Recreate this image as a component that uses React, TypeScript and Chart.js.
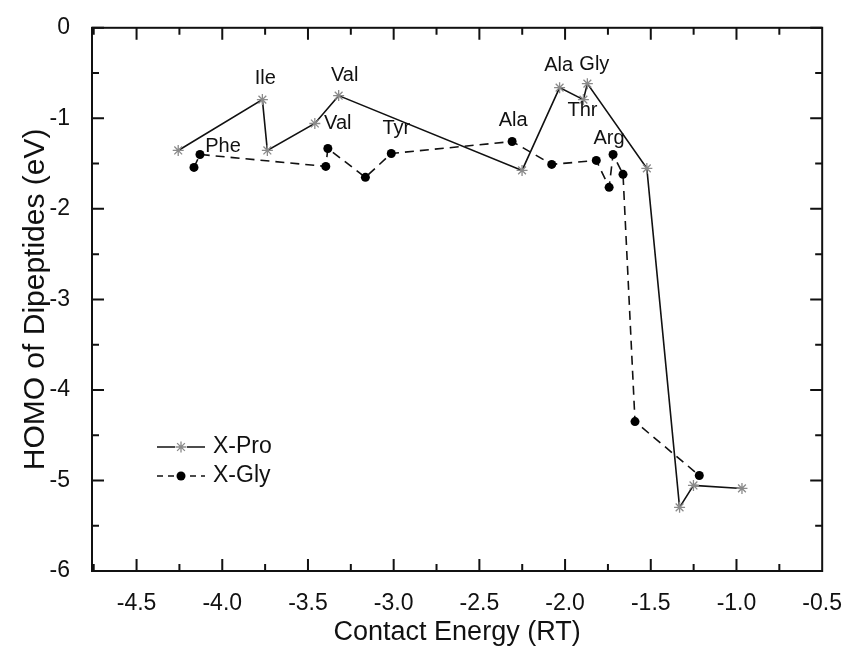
import React, { useEffect, useRef } from "react";
import { Chart, registerables } from "chart.js";

Chart.register(...registerables);

// ---- data ----
const PRO_X = [-4.257, -3.766, -3.737, -3.46, -3.321, -2.251, -2.032, -1.893, -1.87, -1.523, -1.332, -1.251, -0.968];
const PRO_Y = [-1.355, -0.793, -1.355, -1.057, -0.749, -1.575, -0.661, -0.793, -0.617, -1.553, -5.297, -5.055, -5.088];
const GLY_X = [-4.165, -4.13, -3.396, -3.384, -3.165, -3.014, -2.309, -2.078, -1.818, -1.743, -1.72, -1.662, -1.592, -1.217];
const GLY_Y = [-1.542, -1.399, -1.531, -1.333, -1.652, -1.388, -1.256, -1.509, -1.465, -1.762, -1.399, -1.619, -4.35, -4.945];

const SERIES_NAMES = ["X-Pro", "X-Gly"];
const X_TICKS = [-4.5, -4.0, -3.5, -3.0, -2.5, -2.0, -1.5, -1.0, -0.5];
const Y_TICKS = [0, -1, -2, -3, -4, -5, -6];

const LABEL_TEXT = ["Ile", "Val", "Val", "Phe", "Tyr", "Ala", "Ala", "Gly", "Thr", "Arg"];
const LABEL_SERIES = [0, 0, 0, 1, 1, 1, 0, 0, 0, 1];
const LABEL_INDEX = [1, 4, 3, 1, 5, 6, 6, 8, 7, 10];

// label placement (pixel offsets from the labelled point) – style only
const LABEL_DX = [3, 6, 23, 23, 5, 1, -1, 7, -1, -4];
const LABEL_DY = [-21, -20, 0, -8, -25, -21, -22, -19, 11, -16];

const FONT = "'Liberation Sans', Arial, sans-serif";

function drawMarker(ctx: CanvasRenderingContext2D, ds: any, x: number, y: number) {
  ctx.save();
  ctx.strokeStyle = ds.pointBorderColor;
  ctx.fillStyle = ds.pointBackgroundColor;
  ctx.lineWidth = ds.pointBorderWidth;
  const r = ds.pointRadius;
  if (ds.pointStyle === "star") {
    ctx.beginPath();
    for (let k = 0; k < 4; k++) {
      const ang = (Math.PI / 4) * k;
      ctx.moveTo(x - r * Math.cos(ang), y - r * Math.sin(ang));
      ctx.lineTo(x + r * Math.cos(ang), y + r * Math.sin(ang));
    }
    ctx.stroke();
  } else {
    ctx.beginPath();
    ctx.arc(x, y, r, 0, Math.PI * 2);
    ctx.fill();
  }
  ctx.restore();
}

const framePlugin = {
  id: "frameTicks",
  afterDraw(chart: any) {
    const { ctx, chartArea: a, scales } = chart;
    const xs = scales.x;
    const ys = scales.y;
    ctx.save();
    ctx.strokeStyle = "#111";
    ctx.lineWidth = 2;
    ctx.strokeRect(a.left, a.top, a.right - a.left, a.bottom - a.top);
    const major = 12;
    const minor = 7;
    const xVals: number[] = [X_TICKS[0] - 0.25];
    for (let i = 0; i < X_TICKS.length; i++) {
      xVals.push(X_TICKS[i]);
      if (i < X_TICKS.length - 1) xVals.push((X_TICKS[i] + X_TICKS[i + 1]) / 2);
    }
    xVals.forEach((v) => {
      const len = X_TICKS.includes(v) ? major : minor;
      const px = xs.getPixelForValue(v);
      if (px < a.left + 1 || px > a.right - 1) return;
      ctx.beginPath();
      ctx.moveTo(px, a.bottom);
      ctx.lineTo(px, a.bottom - len);
      ctx.moveTo(px, a.top);
      ctx.lineTo(px, a.top + len);
      ctx.stroke();
    });
    const yVals: number[] = [];
    for (let i = 0; i < Y_TICKS.length; i++) {
      yVals.push(Y_TICKS[i]);
      if (i < Y_TICKS.length - 1) yVals.push((Y_TICKS[i] + Y_TICKS[i + 1]) / 2);
    }
    yVals.forEach((v) => {
      const len = Y_TICKS.includes(v) ? major : minor;
      const py = ys.getPixelForValue(v);
      ctx.beginPath();
      ctx.moveTo(a.left, py);
      ctx.lineTo(a.left + len, py);
      ctx.moveTo(a.right, py);
      ctx.lineTo(a.right - len, py);
      ctx.stroke();
    });

    // point labels
    ctx.fillStyle = "#111";
    ctx.font = `20px ${FONT}`;
    ctx.textAlign = "center";
    ctx.textBaseline = "middle";
    LABEL_TEXT.forEach((t, i) => {
      const meta = chart.getDatasetMeta(LABEL_SERIES[i]);
      const el = meta.data[LABEL_INDEX[i]];
      ctx.fillText(t, el.x + LABEL_DX[i], el.y + LABEL_DY[i]);
    });

    // legend
    const lx0 = 157;
    const lx1 = 205;
    const rows = [447, 476];
    chart.data.datasets.forEach((ds: any, i: number) => {
      const y = rows[i];
      ctx.save();
      ctx.strokeStyle = ds.borderColor;
      ctx.lineWidth = ds.borderWidth;
      ctx.setLineDash(ds.borderDash ? [6, 5] : []);
      ctx.beginPath();
      ctx.moveTo(lx0, y);
      ctx.lineTo(lx1, y);
      ctx.stroke();
      ctx.restore();
      const cx = (lx0 + lx1) / 2;
      ctx.fillStyle = "#fff";
      ctx.fillRect(cx - 6, y - 6, 12, 12);
      drawMarker(ctx, ds, cx, y);
      ctx.fillStyle = "#111";
      ctx.font = `23px ${FONT}`;
      ctx.textAlign = "left";
      ctx.textBaseline = "middle";
      ctx.fillText(SERIES_NAMES[i], 213, y);
    });
    ctx.restore();
  },
};

export default function App() {
  const ref = useRef<HTMLCanvasElement | null>(null);
  useEffect(() => {
    document.body.style.margin = "0";
    const canvas = ref.current;
    if (!canvas) return;
    const chart = new Chart(canvas, {
      type: "scatter",
      data: {
        datasets: [
          {
            label: SERIES_NAMES[0],
            data: PRO_X.map((x, i) => ({ x, y: PRO_Y[i] })),
            showLine: true,
            borderColor: "#111",
            borderWidth: 1.6,
            pointStyle: "star",
            pointRadius: 5.5,
            pointBorderColor: "#8a8a8a",
            pointBackgroundColor: "#8a8a8a",
            pointBorderWidth: 1.3,
          },
          {
            label: SERIES_NAMES[1],
            data: GLY_X.map((x, i) => ({ x, y: GLY_Y[i] })),
            showLine: true,
            borderColor: "#111",
            borderWidth: 1.6,
            borderDash: [9, 6],
            pointStyle: "circle",
            pointRadius: 4.5,
            pointBorderColor: "#000",
            pointBackgroundColor: "#000",
            pointBorderWidth: 0,
          },
        ],
      },
      options: {
        responsive: false,
        animation: false,
        layout: { padding: { left: 0, top: 26, right: 24, bottom: 0 } },
        plugins: { legend: { display: false }, tooltip: { enabled: false } },
        scales: {
          x: {
            type: "linear",
            min: -4.76,
            max: -0.5,
            grid: { display: false },
            border: { display: false },
            afterBuildTicks: (s: any) => {
              s.ticks = X_TICKS.map((v) => ({ value: v }));
            },
            afterFit: (s: any) => {
              s.height = 85;
            },
            ticks: {
              padding: 11,
              autoSkip: false,
              maxRotation: 0,
              color: "#111",
              font: { family: FONT, size: 23 },
              callback: (v: any) => Number(v).toFixed(1),
            },
            title: {
              display: true,
              text: "Contact Energy (RT)",
              color: "#111",
              font: { family: FONT, size: 27 },
              padding: { top: 0, bottom: 7 },
            },
          },
          y: {
            type: "linear",
            min: -6,
            max: 0,
            grid: { display: false },
            border: { display: false },
            afterBuildTicks: (s: any) => {
              s.ticks = Y_TICKS.map((v) => ({ value: v }));
            },
            afterFit: (s: any) => {
              s.width = 92;
            },
            ticks: {
              padding: 14,
              autoSkip: false,
              color: "#111",
              font: { family: FONT, size: 23 },
              callback: (v: any) => String(Number(v)),
            },
            title: {
              display: true,
              text: "HOMO of Dipeptides (eV)",
              color: "#111",
              font: { family: FONT, size: 30 },
              padding: { top: 18, bottom: 0 },
            },
          },
        },
      },
      plugins: [framePlugin],
    } as any);
    return () => chart.destroy();
  }, []);
  return (
    <div style={{ position: "fixed", left: 0, top: 0, width: 853, height: 656, background: "#fff" }}>
      <canvas ref={ref} width={853} height={656} style={{ width: 853, height: 656, display: "block" }} />
    </div>
  );
}
